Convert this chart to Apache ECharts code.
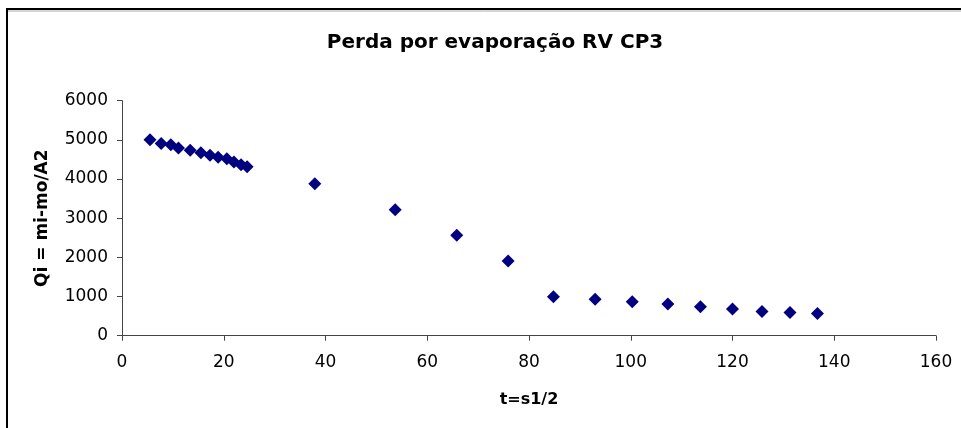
<!DOCTYPE html>
<html>
<head>
<meta charset="utf-8">
<script src="https://cdn.jsdelivr.net/npm/echarts@6/dist/echarts.min.js"></script>
<style>
  html, body { margin: 0; padding: 0; background: #fff; }
  #chart { width: 961px; height: 428px; }
</style>
</head>
<body>
<div id="chart"></div>
<script>
// Square root of time (s^1/2) for each weighing
const tValues = [5.5, 7.7, 9.6, 11.1, 13.4, 15.5, 17.3, 18.9, 20.6, 22.0, 23.4, 24.6,
                 37.9, 53.7, 65.8, 75.9,
                 84.8, 93.0, 100.3, 107.3, 113.7, 120.0, 125.8, 131.3, 136.7];
// Accumulated loss per area, Qi = (mi - mo) / A
const qiValues = [5000, 4910, 4875, 4790, 4735, 4670, 4605, 4555, 4520, 4435, 4365, 4315,
                  3880, 3215, 2565, 1905,
                  995, 930, 870, 810, 740, 680, 615, 595, 570];

const xTicks = { min: 0, max: 160, interval: 20 };
const yTicks = { min: 0, max: 6000, interval: 1000 };

const FONT = '"DejaVu Sans", "Liberation Sans", Arial, sans-serif';

const points = tValues.map((t, i) => [t, qiValues[i]]);

const chart = echarts.init(document.getElementById('chart'), null, { renderer: 'canvas' });

chart.setOption({
  backgroundColor: '#ffffff',
  animation: false,
  title: {
    text: 'Perda por evaporação RV CP3',
    left: 490,
    top: 28,
    textAlign: 'center',
    textStyle: { fontFamily: FONT, fontSize: 20, fontWeight: 'bold', color: '#000' }
  },
  grid: { left: 122, right: 25, top: 100.7, bottom: 92.3, containLabel: false },
  xAxis: {
    type: 'value',
    min: xTicks.min, max: xTicks.max, interval: xTicks.interval,
    name: 't=s1/2',
    nameLocation: 'middle',
    nameGap: 56,
    nameTextStyle: { fontFamily: FONT, fontSize: 16, fontWeight: 'bold', color: '#000' },
    axisLine: { show: true, onZero: false, lineStyle: { color: '#444', width: 1 } },
    axisTick: { show: true, inside: false, length: 5, lineStyle: { color: '#444' } },
    axisLabel: { margin: 18, fontFamily: FONT, fontSize: 17, color: '#000',
                 formatter: v => String(v) },
    splitLine: { show: false }
  },
  yAxis: {
    type: 'value',
    min: yTicks.min, max: yTicks.max, interval: yTicks.interval,
    name: 'Qi = mi-mo/A2',
    nameLocation: 'middle',
    nameGap: 71,
    nameTextStyle: { fontFamily: FONT, fontSize: 17, fontWeight: 'bold', color: '#000' },
    axisLine: { show: true, lineStyle: { color: '#444', width: 1 } },
    axisTick: { show: true, inside: false, length: 5, lineStyle: { color: '#444' } },
    axisLabel: { margin: 14, fontFamily: FONT, fontSize: 17, color: '#000',
                 formatter: v => String(v) },
    splitLine: { show: false }
  },
  graphic: [
    {
      type: 'rect',
      shape: { x: 7, y: 9, width: 1000, height: 1000 },
      style: { fill: 'none', stroke: '#000', lineWidth: 2 },
      silent: true
    },
    {
      type: 'line',
      shape: { x1: 8, y1: 11, x2: 961, y2: 11 },
      style: { stroke: '#aaaaaa', lineWidth: 1 },
      silent: true
    }
  ],
  series: [{
    type: 'scatter',
    data: points,
    symbol: 'diamond',
    symbolSize: 13,
    itemStyle: { color: '#000080', opacity: 1 }
  }]
});
</script>
</body>
</html>
